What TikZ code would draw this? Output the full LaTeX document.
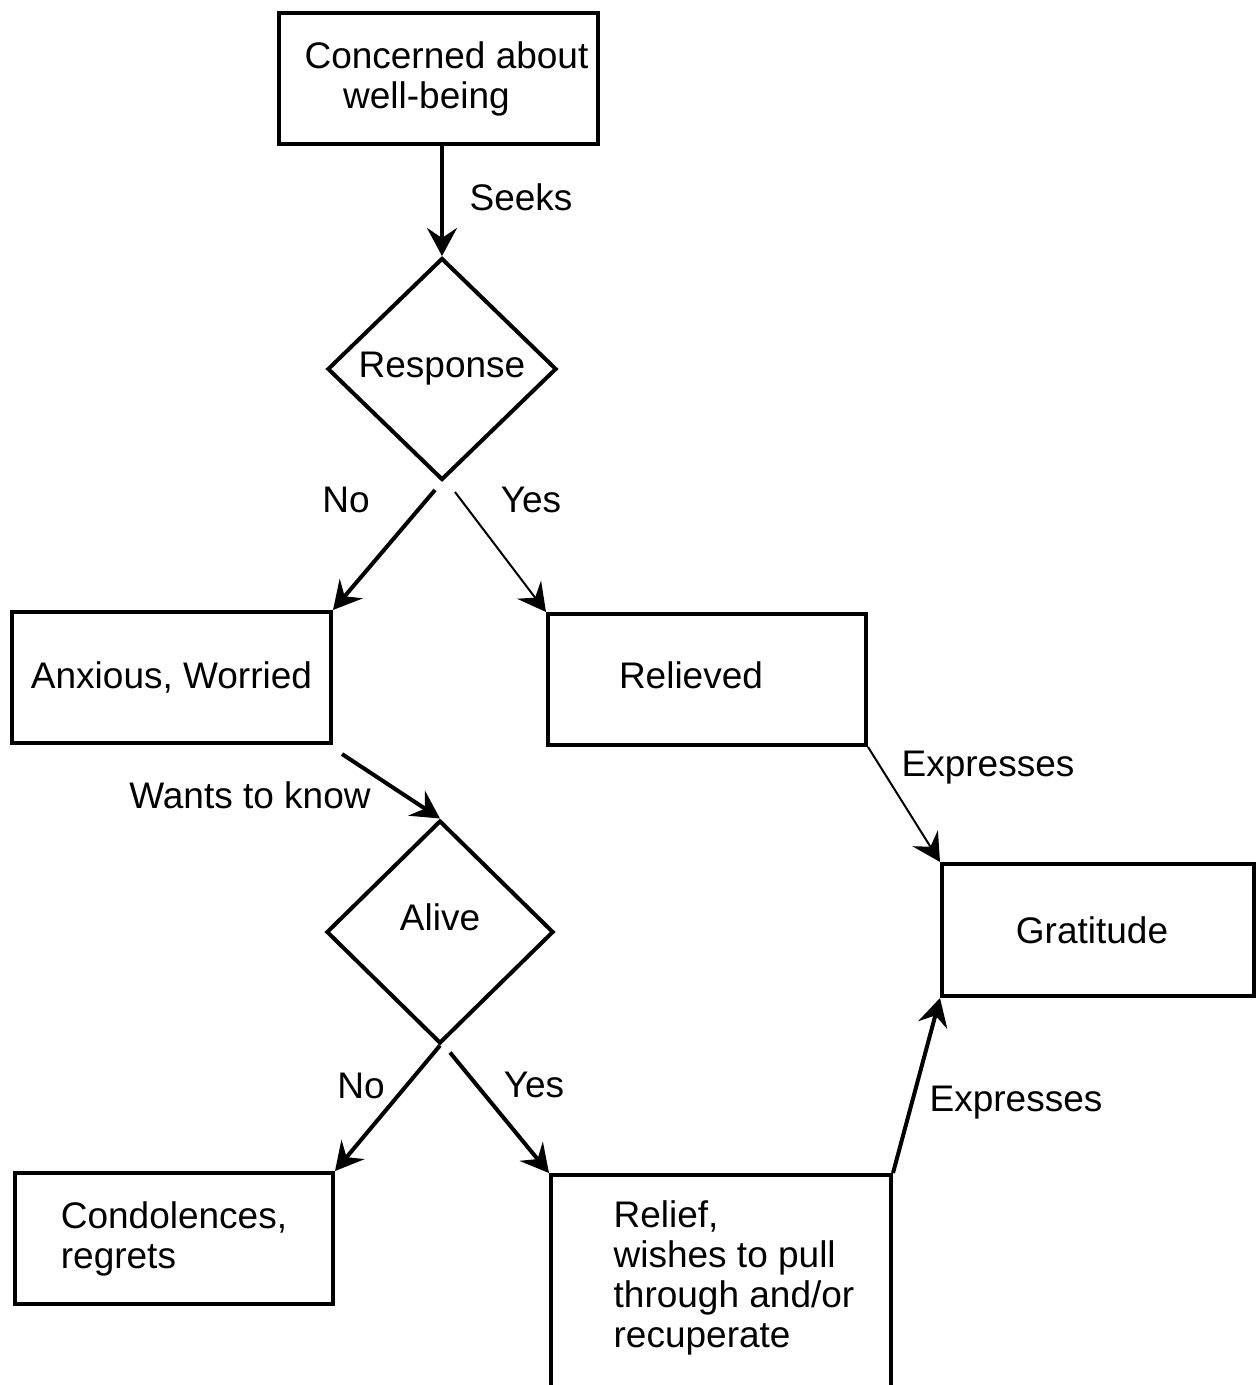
\documentclass[tikz,border=0pt]{standalone}
\usepackage{fontspec}
\setmainfont{Liberation Sans}
\usetikzlibrary{arrows.meta,shapes.geometric,calc}
\begin{document}
\begin{tikzpicture}[x=0.5pt,y=-0.5pt,
  font=\fontsize{18.5pt}{20pt}\selectfont,
  box/.style={draw,line width=2pt,rectangle,inner sep=0pt},
  dia/.style={draw,line width=2pt,diamond,inner sep=0pt},
  lbl/.style={inner sep=0pt},
  thickarr/.style={line width=2pt,-{Stealth[length=14pt,width=15pt,inset=5pt]}},
  thinarr/.style={line width=1pt,-{Stealth[length=14pt,width=15pt,inset=5pt]}}]
\path[use as bounding box, clip] (0,0) rectangle (1257,1385);
\fill[white] (0,0) rectangle (1257,1385);

\node[box,minimum width=159.5pt,minimum height=65.5pt,align=center] (top) at (438.5,78.5) {\hspace*{8pt}Concerned about\\well-being\hspace*{12pt}};
\node[dia,minimum width=114.5pt,minimum height=111pt] (resp) at (442,369) {Response};
\node[box,minimum width=159.5pt,minimum height=65.5pt] (anx) at (171.5,677.5) {Anxious, Worried};
\node[box,minimum width=159pt,minimum height=65.5pt] (rel) at (707,679.5) {\raisebox{4pt}{Relieved}\hspace*{16pt}};
\node[dia,minimum width=113.5pt,minimum height=111.5pt] (alive) at (440,932) {\raisebox{15pt}{Alive}};
\node[box,minimum width=156pt,minimum height=66pt] (grat) at (1098,930) {Gratitude\hspace*{6pt}};
\node[box,minimum width=159pt,minimum height=65.5pt,align=left] (cond) at (174,1238.5) {Condolences,\\regrets};
\node[box,minimum width=170pt,minimum height=110pt,align=left] (relief) at (721,1285) {\hspace*{13pt}Relief,\\\hspace*{13pt}wishes to pull\\\hspace*{13pt}through and/or\\\hspace*{13pt}recuperate\rule[-11pt]{0pt}{11pt}};

\node[lbl] (lseeks) at (521,197) {Seeks};
\node[lbl] (lno1) at (346,500) {No};
\node[lbl] (lyes1) at (531,500) {Yes};
\node[lbl] (lwants) at (250,795) {Wants to know};
\node[lbl] (lexp1) at (988,768) {Expresses};
\node[lbl] (lno2) at (361,1086) {No};
\node[lbl] (lyes2) at (534,1085) {Yes};
\node[lbl] (lexp2) at (1016,1103) {Expresses};

\draw[thickarr] (resp.north |- top.south) -- (resp.north);
\draw[thickarr] ($(resp.south)+(-7,8)$) -- (anx.north east);
\draw[thinarr] ($(resp.south)+(13,10)$) -- (rel.north west);
\draw[thickarr] ($(anx.south east)+(9,9)$) -- (alive.north);
\draw[thinarr] (rel.south east) -- (grat.north west);
\draw[thickarr] (alive.south) -- (cond.north east);
\draw[thickarr] ($(alive.south)+(10,7)$) -- (relief.north west);
\draw[thickarr] (relief.north east) -- (grat.south west);
\end{tikzpicture}
\end{document}
